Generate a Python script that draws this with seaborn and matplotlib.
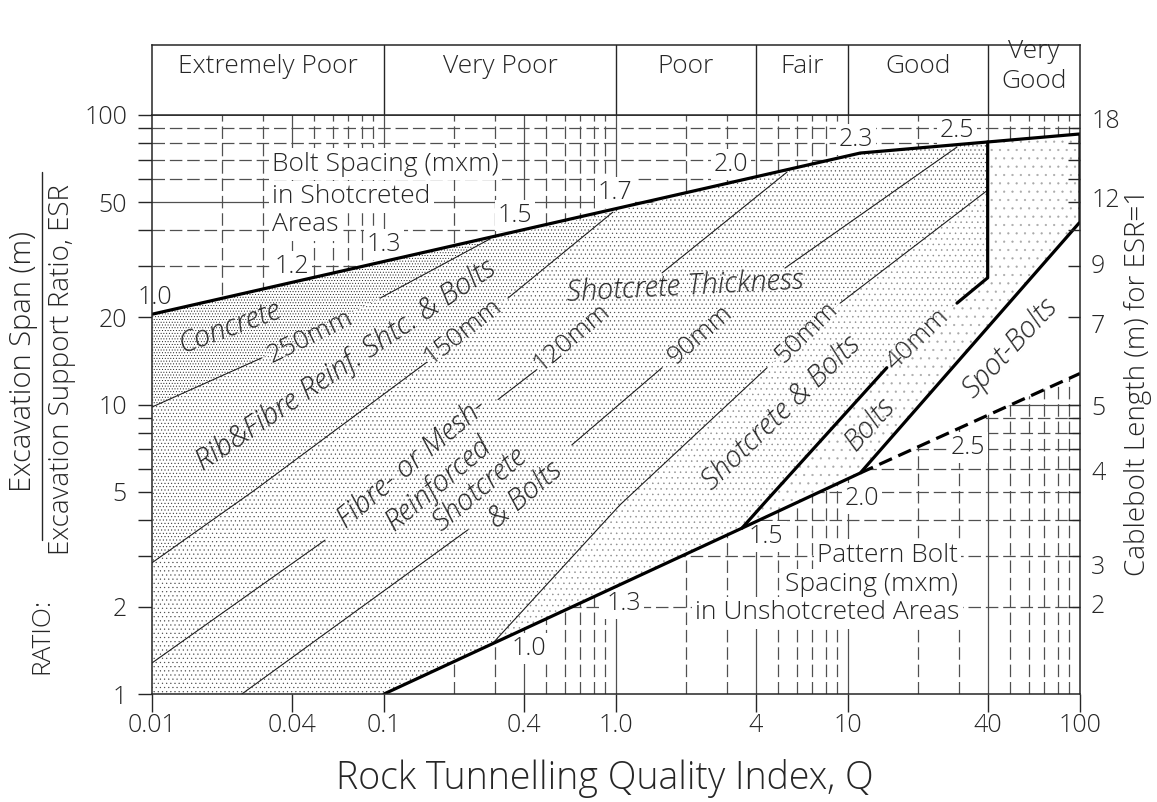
import numpy as np
import pandas as pd
import matplotlib
matplotlib.use("Agg")
import matplotlib.pyplot as plt
from matplotlib.lines import Line2D
from matplotlib.ticker import FixedLocator, NullFormatter, NullLocator
import seaborn as sns

sns.set_style("ticks")
plt.rcParams["font.family"] = ["Open Sans", "DejaVu Sans"]
plt.rcParams["font.weight"] = "light"
plt.rcParams["hatch.linewidth"] = 0.35
plt.rcParams["lines.scale_dashes"] = False
plt.rcParams["axes.linewidth"] = 1.1

INK = "#262626"
GRID = "#505050"
THIN = "#1e1e1e"

# ---------------------------------------------------------------- data
Q_RANGE = (0.01, 100.0)
SPAN_RANGE = (1.0, 100.0)

class_edges = [0.01, 0.1, 1.0, 4.0, 10.0, 40.0, 100.0]
class_names = ["Extremely Poor", "Very Poor", "Poor", "Fair", "Good", "Very\nGood"]

q_ticks = [0.01, 0.04, 0.1, 0.4, 1.0, 4.0, 10.0, 40.0, 100.0]
q_tick_labels = ["0.01", "0.04", "0.1", "0.4", "1.0", "4", "10", "40", "100"]
span_ticks = [1, 2, 5, 10, 20, 50, 100]
span_tick_labels = ["1", "2", "5", "10", "20", "50", "100"]
span_minor = [3, 4, 6, 7, 8, 9, 30, 40, 60, 70, 80, 90]
cable_span = [97, 52, 30.6, 19, 9.9, 5.9, 2.8, 2.06]
cable_labels = ["18", "12", "9", "7", "5", "4", "3", "2"]

# bolt-spacing grid
grid_q_dashed = [m * d for d in (0.01, 0.1, 1, 10) for m in range(2, 10) if m != 4]
grid_q_solid = [0.04, 0.1, 0.4, 1.0, 4.0, 10.0, 40.0]
grid_s_dashed = [2, 3, 4, 5, 6, 7, 8, 9, 20, 30, 40, 60, 70, 80, 90]
grid_s_solid = [10, 50]

# outer limit of the support zone: top edge, right edge, spot-bolt edge, lower edge
edge_q = [0.01, 11.3, 100.0, 100.0, 11.3, 3.49, 0.1]
edge_s = [20.5, 73.9, 86.0, 42.7, 5.8, 3.74, 1.0]
# lower limit of spot bolting (dashed)
spot_q = [11.3, 100.0]
spot_s = [5.8, 12.8]
# bolts / shotcrete limit (40 mm), split around its label
b40_q = [[3.49, 4.48, 14.7], [29.5, 40.0, 40.0]]
b40_s = [[3.74, 4.68, 13.4], [22.4, 27.4, 80.7]]

# shotcrete thickness contours, split around their labels
t250_q = [[0.01, 0.0298], [0.0962, 0.286]]
t250_s = [[9.8, 14.5], [23.3, 37.3]]
t150_q = [[0.01, 0.0278, 0.153], [0.342, 0.97]]
t150_s = [[2.84, 5.07, 14.0], [23.3, 46.2]]
t120_q = [[0.01, 0.0557], [0.310, 0.456], [1.58, 5.46]]
t120_s = [[1.28, 3.40], [10.4, 13.2], [28.5, 63.5]]
t90_q = [[0.0244, 0.230], [0.645, 1.58], [5.35, 29.5]]
t90_s = [[1.0, 3.69], [7.25, 13.4], [29.6, 77.5]]
t50_q = [[0.295, 1.04, 4.48], [9.25, 40.1]]
t50_s = [[1.50, 4.50, 13.4], [22.4, 55.1]]


def flat(segs):
    return [v for seg in segs for v in seg]


def segment_frame(name, q_segs, s_segs):
    rows = []
    for i, (qs, ss) in enumerate(zip(q_segs, s_segs)):
        for q, s in zip(qs, ss):
            rows.append({"unit": f"{name}-{i}", "q": q, "s": s})
    return pd.DataFrame(rows)


# ---------------------------------------------------------------- figure
W, H = 1157, 802
fig = plt.figure(figsize=(W / 100, H / 100), dpi=100)


def fx(px):
    return px / W


def fy(py):
    return 1 - py / H


ax = fig.add_axes([fx(152), fy(694), fx(1080) - fx(152), fy(115) - fy(694)])
ax.set_xscale("log")
ax.set_yscale("log")
ax.set_xlim(*Q_RANGE)
ax.set_ylim(*SPAN_RANGE)
for sp in ax.spines.values():
    sp.set_color(INK)
    sp.set_zorder(6)

# bolt spacing grid (visible outside the shotcreted zones)
for q in grid_q_dashed:
    ax.axvline(q, color=GRID, lw=0.9, ls=(0, (9, 3.5)), zorder=1)
for q in grid_q_solid:
    ax.axvline(q, color=GRID, lw=0.9, zorder=1)
for s in grid_s_dashed:
    ax.axhline(s, color=GRID, lw=0.9, ls=(0, (9, 3.5)), zorder=1)
for s in grid_s_solid:
    ax.axhline(s, color=GRID, lw=0.9, zorder=1)

# stippled support zones
q250, s250 = flat(t250_q), flat(t250_s)
q150, s150 = flat(t150_q), flat(t150_s)
q50, s50 = flat(t50_q), flat(t50_s)
q40, s40 = flat(b40_q), flat(b40_s)

zone_concrete = (q250 + [edge_q[0]], s250 + [edge_s[0]])
zone_rib = (q150 + q250[::-1], s150 + s250[::-1])
zone_mesh = ([Q_RANGE[0], edge_q[-1]] + q50 + [40.0, edge_q[1]] + q150[::-1],
             [SPAN_RANGE[0], edge_s[-1]] + s50 + [80.7, edge_s[1]] + s150[::-1])
zone_shot = (q50 + q40[:-1][::-1], s50 + s40[:-1][::-1])
zone_bolts = (q40 + [edge_q[2], edge_q[3], edge_q[4]], s40 + [edge_s[2], edge_s[3], edge_s[4]])
zone_spot = (spot_q + [edge_q[3]], spot_s + [edge_s[3]])

for (zq, zs), hatch, col in [
    (zone_concrete, "......", "#101010"),
    (zone_rib, ".....", "#2a2a2a"),
    (zone_mesh, "....", "#4a4a4a"),
    (zone_shot, "...", "#8c8c8c"),
    (zone_bolts, "..", "#a8a8a8"),
]:
    ax.fill(zq, zs, facecolor="white", edgecolor=col, hatch=hatch, lw=0, zorder=2)
ax.fill(*zone_spot, facecolor="white", edgecolor="none", lw=0, zorder=2)

# thickness contours
contours = pd.concat([
    segment_frame("250", t250_q, t250_s),
    segment_frame("150", t150_q, t150_s),
    segment_frame("120", t120_q, t120_s),
    segment_frame("90", t90_q, t90_s),
    segment_frame("50", t50_q, t50_s),
], ignore_index=True)
sns.lineplot(data=contours, x="q", y="s", units="unit", estimator=None, sort=False,
             color=THIN, lw=0.8, ax=ax, legend=False, zorder=3)

# heavy limits
heavy = pd.concat([
    segment_frame("edge", [edge_q], [edge_s]),
    segment_frame("b40", b40_q, b40_s),
], ignore_index=True)
sns.lineplot(data=heavy, x="q", y="s", units="unit", estimator=None, sort=False,
             color="black", lw=2.3, ax=ax, legend=False, zorder=4)
ax.plot(spot_q, spot_s, color="black", lw=2.3, ls=(0, (10, 5)), zorder=4)
ax.set_xlabel("")
ax.set_ylabel("")

# ticks
ax.xaxis.set_major_locator(FixedLocator(q_ticks))
ax.set_xticklabels(q_tick_labels)
ax.xaxis.set_minor_locator(NullLocator())
ax.yaxis.set_major_locator(FixedLocator(span_ticks))
ax.set_yticklabels(span_tick_labels)
ax.yaxis.set_minor_locator(FixedLocator(span_minor))
ax.yaxis.set_minor_formatter(NullFormatter())
ax.tick_params(axis="x", which="major", direction="out", length=13, width=1.0,
               color=INK, labelcolor=INK, labelsize=18, pad=1)
ax.tick_params(axis="y", which="both", direction="out", length=10, width=1.0,
               color=INK, labelcolor=INK, labelsize=18, pad=8)

ax2 = ax.twinx()
ax2.set_yscale("log")
ax2.set_ylim(*SPAN_RANGE)
ax2.yaxis.set_major_locator(FixedLocator(cable_span))
ax2.set_yticklabels(cable_labels)
ax2.yaxis.set_minor_locator(FixedLocator(span_ticks[1:-1] + span_minor))
ax2.yaxis.set_minor_formatter(NullFormatter())
ax2.tick_params(axis="y", which="major", length=0, labelsize=18, labelcolor=INK, pad=8)
ax2.tick_params(axis="y", which="minor", direction="in", length=9, width=1.0, color=INK)
for sp in ax2.spines.values():
    sp.set_visible(False)

# rock class band
band = fig.add_axes([fx(152), fy(115), fx(1080) - fx(152), fy(45) - fy(115)])
band.set_xscale("log")
band.set_xlim(*Q_RANGE)
band.set_ylim(0, 1)
band.xaxis.set_major_locator(NullLocator())
band.xaxis.set_minor_locator(NullLocator())
band.yaxis.set_major_locator(NullLocator())
for sp in band.spines.values():
    sp.set_color(INK)
for e in class_edges[1:-1]:
    band.axvline(e, color=INK, lw=1.0)
for lo, hi, name in zip(class_edges[:-1], class_edges[1:], class_names):
    band.text(np.sqrt(lo * hi), 0.69, name, ha="center", va="center", size=19,
              color=INK, linespacing=1.25)

# ---------------------------------------------------------------- labels
white = dict(boxstyle="square,pad=0.12", facecolor="white", edgecolor="none")


def note(q, s, text, angle=0.0, size=19, style="normal", box=False, ha="center"):
    ax.text(q, s, text, rotation=angle, rotation_mode="anchor", ha=ha, va="center",
            size=size, style=style, color=INK, zorder=1.5 if box else 5,
            bbox=white if box else None)


# bolt spacing in shotcreted areas
for q, s, t in [(0.0103, 23.5, "1.0"), (0.0401, 29.9, "1.2"), (0.1, 35.6, "1.3"),
                (0.367, 45.1, "1.5"), (0.99, 54.2, "1.7"), (3.13, 67.2, "2.0"),
                (10.8, 82.6, "2.3"), (29.5, 88.7, "2.5")]:
    note(q, s, t, size=18, box=True)
for q, s, t in [(0.0329, 67.7, "Bolt Spacing (mxm)"), (0.0329, 52.1, "in Shotcreted"),
                (0.0329, 41.7, "Areas")]:
    note(q, s, t, box=True, ha="left")

# pattern bolt spacing in unshotcreted areas
for q, s, t in [(0.422, 1.44, "1.0"), (1.08, 2.06, "1.3"), (4.44, 3.49, "1.5"),
                (11.5, 4.75, "2.0"), (32.9, 7.08, "2.5")]:
    note(q, s, t, size=18, box=True)
for q, s, t in [(29.8, 3.02, "Pattern Bolt"), (29.8, 2.38, "Spacing (mxm)"),
                (30.2, 1.905, "in Unshotcreted Areas")]:
    note(q, s, t, box=True, ha="right")

# shotcrete thickness labels
for q, s, t, ang in [(0.048, 17.1, "250mm", 26), (0.219, 17.8, "150mm", 38),
                     (0.646, 17.1, "120mm", 40), (2.30, 17.4, "90mm", 41),
                     (6.59, 17.7, "50mm", 44), (20.0, 16.7, "40mm", 44)]:
    note(q, s, t, angle=ang, size=19)

# support categories
note(0.0217, 18.5, "Concrete", angle=20, size=21, style="italic")
note(0.0686, 13.7, "Rib&Fibre Reinf. Shtc. & Bolts", angle=34, size=21, style="italic")
for q, s, t in [(0.132, 6.28, "Fibre- or Mesh-"), (0.171, 5.31, "Reinforced"),
                (0.259, 5.07, "Shotcrete"), (0.405, 4.87, "& Bolts")]:
    note(q, s, t, angle=40, size=21, style="italic")
note(1.98, 25.5, "Shotcrete Thickness", angle=3, size=21, style="italic")
note(5.19, 9.35, "Shotcrete & Bolts", angle=44, size=21, style="italic")
note(12.4, 8.56, "Bolts", angle=48, size=21, style="italic")
note(49.9, 15.7, "Spot-Bolts", angle=47, size=21, style="italic")

# axis titles
fig.text(fx(605), fy(778), "Rock Tunnelling Quality Index, Q", ha="center", va="center",
         size=27, color=INK)
fig.text(fx(1138), fy(382), "Cablebolt Length (m) for ESR=1", rotation=90,
         ha="center", va="center", size=20, color=INK)
fig.text(fx(23), fy(362), "Excavation Span (m)", rotation=90, ha="center", va="center",
         size=21, color=INK)
fig.add_artist(Line2D([fx(42), fx(42)], [fy(172), fy(540)], color=INK, lw=1.0))
fig.text(fx(62), fy(370), "Excavation Support Ratio, ESR", rotation=90, ha="center",
         va="center", size=20, color=INK)
fig.text(fx(42), fy(636), "RATIO:", rotation=90, ha="center", va="center", size=19,
         color=INK)

fig.savefig("out.png", dpi=100)
